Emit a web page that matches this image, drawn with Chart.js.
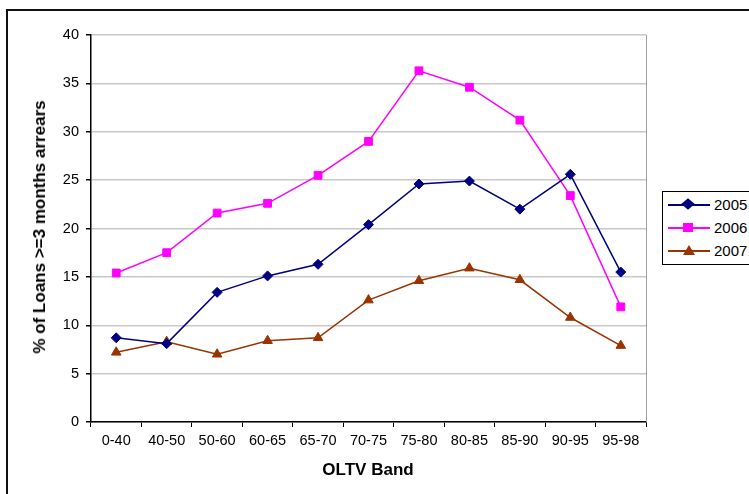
<!DOCTYPE html>
<html>
<head>
<meta charset="utf-8">
<script src="https://cdn.jsdelivr.net/npm/chart.js@4/dist/chart.umd.min.js"></script>
<style>
  html, body { margin: 0; padding: 0; background: #fff; overflow: hidden; }
  body { width: 749px; height: 494px; position: relative; font-family: "Liberation Sans", Arial, sans-serif; }
  #frame { position: absolute; left: 6px; top: 9px; width: 900px; height: 600px; border: 2px solid #111; }
  #wrap { position: absolute; left: 0; top: 0; width: 749px; height: 494px; }
  #ytitle { position: absolute; left: 40px; top: 227px; transform: translate(-50%, -50%) rotate(-90deg); white-space: nowrap; font-weight: bold; font-size: 17px; color: #000; }
  #xtitle { position: absolute; left: 368px; top: 470px; transform: translate(-50%, -50%); white-space: nowrap; font-weight: bold; font-size: 17px; color: #000; }
  #legend { position: absolute; left: 662px; top: 191px; width: 120px; height: 72px; border: 1px solid #000; background: #fff; }
  .item { position: absolute; left: 5px; height: 16px; width: 120px; }
  .line { position: absolute; left: 0; top: 7px; width: 42px; height: 2px; }
  .mk { position: absolute; }
  .lbl { position: absolute; left: 46px; top: -1px; font-size: 15px; color: #000; }
</style>
</head>
<body>
<div id="frame"></div>
<div id="wrap"><canvas id="c" width="749" height="494"></canvas></div>
<div id="ytitle">% of Loans &gt;=3 months arrears</div>
<div id="xtitle">OLTV Band</div>
<div id="legend"></div>
<script>
const categories = ['0-40','40-50','50-60','60-65','65-70','70-75','75-80','80-85','85-90','90-95','95-98'];
const seriesNames = ['2005','2006','2007'];
const s2005 = [8.7, 8.1, 13.4, 15.1, 16.3, 20.4, 24.6, 24.9, 22.0, 25.6, 15.5];
const s2006 = [15.4, 17.5, 21.6, 22.6, 25.5, 29.0, 36.3, 34.6, 31.2, 23.4, 11.9];
const s2007 = [7.2, 8.3, 7.0, 8.4, 8.7, 12.6, 14.6, 15.9, 14.7, 10.8, 7.9];
const yTicks = [0, 5, 10, 15, 20, 25, 30, 35, 40];

const colors = ['#000080', '#FF00FF', '#993300'];
const styles = ['rectRot', 'rect', 'triangle'];
const radii = [5, 5.5, 5.5];
const values = [s2005, s2006, s2007];

const FONT = '"Liberation Sans", Arial, sans-serif';

const plotBorder = {
  id: 'plotBorder',
  beforeDatasetsDraw(chart) {
    const a = chart.chartArea, ctx = chart.ctx;
    ctx.save();
    ctx.strokeStyle = '#a0a0a0';
    ctx.lineWidth = 1;
    ctx.beginPath();
    ctx.moveTo(Math.round(a.right) + 0.5, a.top);
    ctx.lineTo(Math.round(a.right) + 0.5, a.bottom);
    ctx.stroke();
    ctx.restore();
  }
};

new Chart(document.getElementById('c'), {
  type: 'line',
  data: {
    labels: categories,
    datasets: values.map((v, i) => ({
      label: seriesNames[i],
      data: v,
      borderColor: colors[i],
      backgroundColor: colors[i],
      borderWidth: 1.5,
      pointStyle: styles[i],
      pointRadius: radii[i],
      pointHoverRadius: radii[i],
      pointBorderWidth: 1,
      tension: 0,
      fill: false
    }))
  },
  options: {
    responsive: false,
    animation: false,
    events: [],
    layout: { padding: { left: 0, right: 103, top: 35, bottom: 0 } },
    plugins: { legend: { display: false }, tooltip: { enabled: false }, title: { display: false } },
    scales: {
      x: {
        type: 'category',
        offset: true,
        grid: { offset: true, drawOnChartArea: false, drawTicks: true, tickLength: 5, tickColor: '#000', color: '#000' },
        border: { display: true, color: '#000', width: 1.5 },
        ticks: { color: '#000', font: { family: FONT, size: 14.5 }, padding: 5, maxRotation: 0, autoSkip: false },
        afterFit(s) { s.height = 72; }
      },
      y: {
        min: 0, max: 40,
        afterBuildTicks(s) { s.ticks = yTicks.map(v => ({ value: v })); },
        grid: { color: '#c8c8c8', lineWidth: 1.5, tickColor: '#000', tickLength: 5, drawTicks: true },
        border: { display: true, color: '#000', width: 1.5 },
        ticks: { color: '#000', font: { family: FONT, size: 14.5 }, padding: 7 },
        afterFit(s) { s.width = 91; }
      }
    }
  },
  plugins: [plotBorder]
});

// HTML legend
const lg = document.getElementById('legend');
const markerCss = [
  'left:16px;top:3px;width:8px;height:8px;background:#000080;transform:scaleX(1.2) rotate(45deg);',
  'left:15px;top:3px;width:10px;height:9px;background:#FF00FF;',
  'left:15px;top:2px;width:0;height:0;border-left:6px solid transparent;border-right:6px solid transparent;border-bottom:10px solid #993300;'
];
seriesNames.forEach((n, i) => {
  const it = document.createElement('div');
  it.className = 'item';
  it.style.top = (5 + i * 23) + 'px';
  it.innerHTML = '<div class="line" style="background:' + colors[i] + '"></div>' +
    '<div class="mk" style="' + markerCss[i] + '"></div>' +
    '<div class="lbl">' + n + '</div>';
  lg.appendChild(it);
});
</script>
</body>
</html>
